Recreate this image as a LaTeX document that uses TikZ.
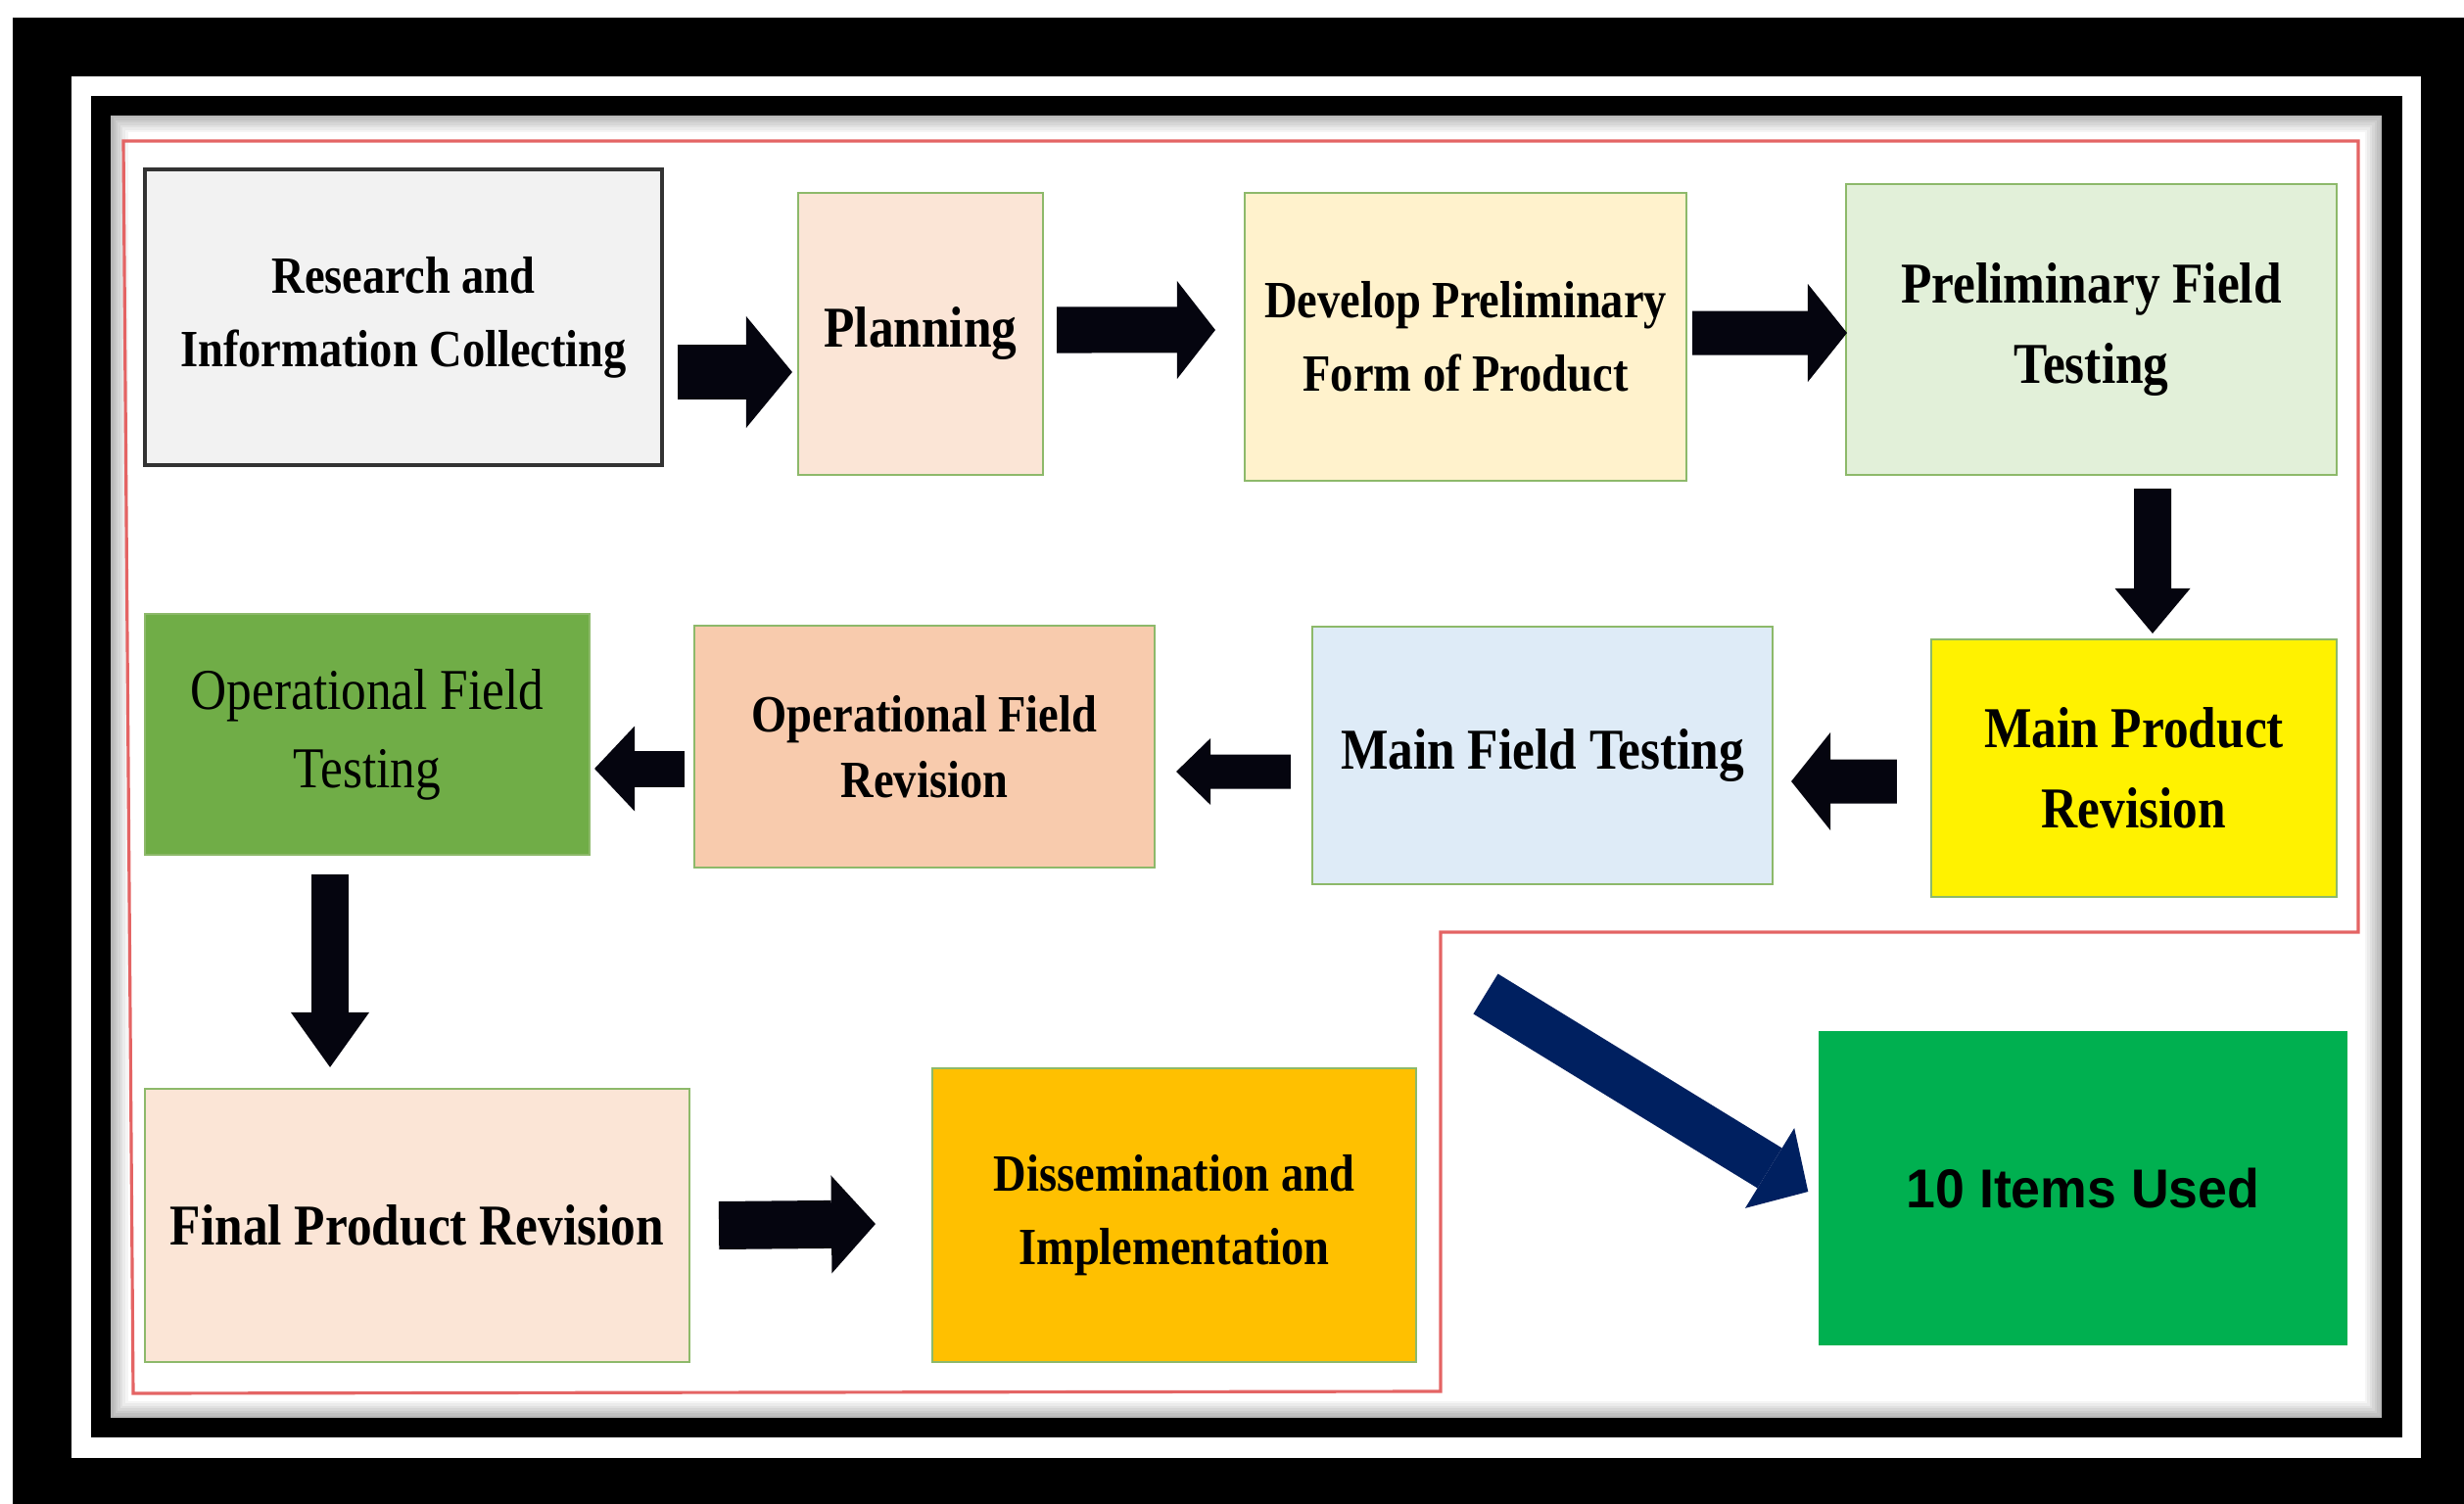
\documentclass[tikz,border=0pt]{standalone}
\usepackage{fontspec}
\setmainfont{Liberation Serif}
\newfontfamily\narrowserif{Liberation Serif}[FakeStretch=0.87]
\newfontfamily\narrowsans{Liberation Sans}[FakeStretch=0.96]
\usetikzlibrary{arrows.meta}

\definecolor{boxgreen}{HTML}{8DB96A}
\definecolor{boxdark}{HTML}{333333}
\definecolor{greyfill}{HTML}{F2F2F2}
\definecolor{peach}{HTML}{FBE5D6}
\definecolor{cream}{HTML}{FFF2CC}
\definecolor{palegreen}{HTML}{E2F0D9}
\definecolor{paleblue}{HTML}{DEEBF7}
\definecolor{salmon}{HTML}{F8CBAD}
\definecolor{leafgreen}{HTML}{70AD47}
\definecolor{amber}{HTML}{FFC000}
\definecolor{brightgreen}{HTML}{00B050}
\definecolor{navy}{HTML}{002060}
\definecolor{redline}{HTML}{E46464}
\definecolor{arrowblack}{HTML}{05050F}

\tikzset{
  stage/.style={draw=boxgreen, line width=0.6pt, align=center, inner sep=0pt,
    font=\narrowserif\bfseries\fontsize{15.2}{21.3}\selectfont},
  bigstage/.style={stage, font=\narrowserif\bfseries\fontsize{16.8}{23.4}\selectfont},
  blockarrow/.style n args={3}{draw=arrowblack, line width=#1,
    -{Triangle[width=#2, length=#3, line width=0pt]}}
}

\begin{document}
\begin{tikzpicture}
  \useasboundingbox (0,0) rectangle (25.16,-15.36);

  % frame
  \fill[white] (0,0) rectangle (25.16,-15.36);
  \fill[black] (0.13,-0.18) rectangle (25.16,-15.36);
  \fill[white] (0.73,-0.78) rectangle (24.72,-14.89);
  \fill[black] (0.93,-0.98) rectangle (24.53,-14.68);
  \foreach \i in {0,...,6} {
    \pgfmathsetmacro\shade{28-4*\i}
    \fill[black!\shade!white] (1.13+0.025*\i,-1.18-0.025*\i) rectangle (24.32-0.025*\i,-14.48+0.025*\i);
  }
  \fill[white] (1.305,-1.355) rectangle (24.145,-14.305);

  % red outline round the steps
  \draw[redline, line width=0.9pt] (1.26,-1.44) -- (24.08,-1.44) -- (24.08,-9.52)
    -- (14.71,-9.52) -- (14.71,-14.21) -- (1.36,-14.23) -- cycle;

  % first row
  \node[stage, draw=boxdark, line width=0.9pt, fill=greyfill, minimum width=5.28cm, minimum height=3.02cm]
    (research) at (4.12,-3.24) {Research and\\Information Collecting};
  \node[bigstage, fill=peach, minimum width=2.5cm, minimum height=2.88cm]
    (planning) at (9.40,-3.41) {Planning};
  \node[stage, fill=cream, minimum width=4.51cm, minimum height=2.94cm]
    (develop) at (14.965,-3.44) {Develop Preliminary\\Form of Product};
  \node[bigstage, fill=palegreen, minimum width=5.01cm, minimum height=2.97cm]
    (prelim) at (21.355,-3.365) {Preliminary Field\\Testing};

  % second row
  \node[bigstage, fill=yellow, minimum width=4.14cm, minimum height=2.63cm]
    (mainrev) at (21.79,-7.845) {Main Product\\Revision};
  \node[bigstage, fill=paleblue, minimum width=4.70cm, minimum height=2.63cm]
    (mainfield) at (15.75,-7.715) {Main Field Testing};
  \node[stage, font=\narrowserif\bfseries\fontsize{15.2}{19}\selectfont, fill=salmon, minimum width=4.70cm, minimum height=2.47cm]
    (oprev) at (9.44,-7.625) {Operational Field\\Revision};
  \node[bigstage, font=\narrowserif\fontsize{16.8}{22.8}\selectfont, fill=leafgreen, minimum width=4.54cm, minimum height=2.46cm]
    (optest) at (3.75,-7.50) {Operational Field\\Testing};

  % third row
  \node[bigstage, fill=peach, minimum width=5.56cm, minimum height=2.79cm]
    (finalrev) at (4.26,-12.515) {Final Product Revision};
  \node[stage, fill=amber, minimum width=4.94cm, minimum height=3.00cm]
    (dissem) at (11.99,-12.41) {Dissemination and\\Implementation};
  \node[fill=brightgreen, inner sep=0pt, minimum width=5.40cm, minimum height=3.21cm,
    font=\narrowsans\bfseries\fontsize{15.9}{19}\selectfont]
    (items) at (21.27,-12.135) {10 Items Used};

  % arrows
  \draw[blockarrow={0.56cm}{1.14cm}{0.47cm}] ([shift={(0.14,-0.56)}]research.east) -- ([shift={(-0.05,-0.39)}]planning.west);
  \draw[blockarrow={0.47cm}{1.0cm}{0.39cm}] ([shift={(0.13,0.04)}]planning.east) -- ([shift={(-0.29,0.07)}]develop.west);
  \draw[blockarrow={0.45cm}{1.0cm}{0.40cm}] ([shift={(0.05,0.04)}]develop.east) -- ([shift={(0.02,-0.035)}]prelim.west);
  \draw[blockarrow={0.38cm}{0.77cm}{0.46cm}] ([shift={(0.625,-0.13)}]prelim.south) -- ([shift={(0.19,0.05)}]mainrev.north);
  \draw[blockarrow={0.45cm}{1.0cm}{0.40cm}] ([shift={(-0.34,-0.135)}]mainrev.west) -- ([shift={(0.18,-0.265)}]mainfield.east);
  \draw[blockarrow={0.35cm}{0.68cm}{0.35cm}] ([shift={(-0.21,-0.165)}]mainfield.west) -- ([shift={(0.21,-0.255)}]oprev.east);
  \draw[blockarrow={0.37cm}{0.87cm}{0.41cm}] ([shift={(-0.09,-0.225)}]oprev.west) -- ([shift={(0.04,-0.35)}]optest.east);
  \draw[blockarrow={0.38cm}{0.80cm}{0.56cm}] ([shift={(-0.38,-0.19)}]optest.south) -- ([shift={(-0.89,0.21)}]finalrev.north);
  \draw[blockarrow={0.49cm}{1.0cm}{0.45cm}] ([shift={(0.29,0)}]finalrev.east) -- ([shift={(-0.57,-0.09)}]dissem.west);

  % navy arrow to the item count
  \coordinate (navytail) at (15.17,-10.15);
  \draw[blockarrow={0.48cm}{0.96cm}{0.46cm}, draw=navy] (navytail) -- ([shift={(-0.10,-0.035)}]items.west);
\end{tikzpicture}
\end{document}
